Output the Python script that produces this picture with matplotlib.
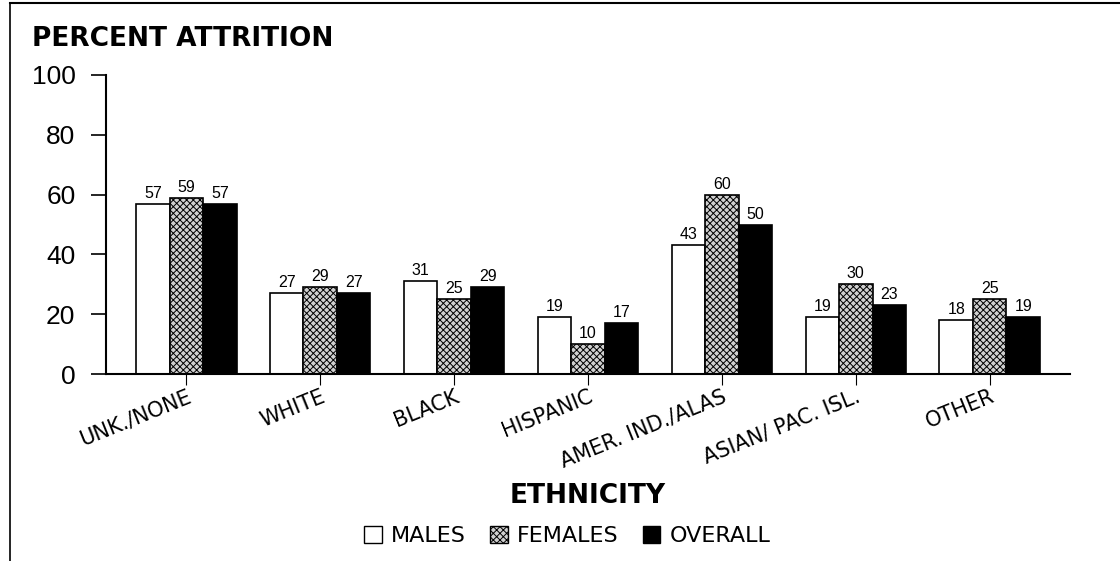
import numpy as np
import matplotlib
matplotlib.use("Agg")
import matplotlib.pyplot as plt
from matplotlib.patches import Patch
from matplotlib.lines import Line2D

plt.rcParams['font.family'] = ['Liberation Sans', 'DejaVu Sans']
plt.rcParams['hatch.linewidth'] = 0.7

# data
categories = ["UNK./NONE", "WHITE", "BLACK", "HISPANIC",
              "AMER. IND./ALAS", "ASIAN/ PAC. ISL.", "OTHER"]
males = [57, 27, 31, 19, 43, 19, 18]
females = [59, 29, 25, 10, 60, 30, 25]
overall = [57, 27, 29, 17, 50, 23, 19]
series_names = ["MALES", "FEMALES", "OVERALL"]

wide = "DejaVu Sans"

fig = plt.figure(figsize=(11.2, 5.61), dpi=100)
ax = fig.add_axes([106 / 1120, 1 - 374 / 561, (1070 - 106) / 1120, (374 - 75) / 561])

x = np.arange(len(categories))
w = 0.25
styles = [
    dict(facecolor="white", edgecolor="black"),
    dict(facecolor="#d0d0d0", edgecolor="black", hatch="xxxxx"),
    dict(facecolor="black", edgecolor="black"),
]
for i, (vals, st) in enumerate(zip([males, females, overall], styles)):
    bars = ax.bar(x + (i - 1) * w, vals, width=w, linewidth=1.2, **st)
    for b, v in zip(bars, vals):
        ax.text(b.get_x() + b.get_width() / 2, v + 1, str(v),
                ha="center", va="bottom", fontsize=11.5)

ax.set_xlim(-0.6, 6.6)
ax.set_ylim(0, 100)
ax.set_yticks([0, 20, 40, 60, 80, 100])
ax.tick_params(axis="y", labelsize=19, length=11, width=1.2, pad=11)
ax.set_xticks(x)
ax.set_xticklabels(categories, rotation=22, ha="right",
                   rotation_mode="anchor", fontsize=15, family=wide)
ax.tick_params(axis="x", length=8, width=0.8, pad=1)

for s in ["top", "right"]:
    ax.spines[s].set_visible(False)
ax.spines["left"].set_linewidth(1.5)
ax.spines["bottom"].set_linewidth(1.5)

fig.text(32 / 1120, 1 - 46 / 561, "PERCENT ATTRITION", fontsize=19,
         fontweight="bold", va="baseline", ha="left", family=wide)
fig.text(588 / 1120, 1 - 503 / 561, "ETHNICITY", fontsize=19,
         fontweight="bold", va="baseline", ha="center", family=wide)

handles = [Patch(linewidth=1, **st) for st in styles]
fig.legend(handles, series_names, loc="center", bbox_to_anchor=(567 / 1120, 1 - 536 / 561),
           ncol=3, frameon=False, prop=dict(family=wide, size=16),
           handlelength=0.8, handleheight=0.8, handletextpad=0.4, columnspacing=1.1)

# frame lines around the picture
fig.add_artist(Line2D([10 / 1120, 1], [1 - 3 / 561, 1 - 3 / 561], color="black", lw=1.5))
fig.add_artist(Line2D([10 / 1120, 10 / 1120], [0, 1 - 3 / 561], color="black", lw=1.2))

fig.savefig("out.png", dpi=100)
